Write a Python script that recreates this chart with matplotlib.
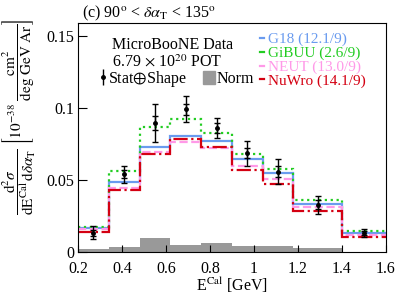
import numpy as np
import matplotlib
matplotlib.use('Agg')
import matplotlib.pyplot as plt
from matplotlib.patches import Patch
from matplotlib.lines import Line2D

plt.rcParams['font.family'] = ['Liberation Serif', 'DejaVu Serif']
plt.rcParams['mathtext.fontset'] = 'stix'

# bin edges of E^Cal [GeV]
EDGES = [0.2, 0.34, 0.48, 0.62, 0.76, 0.90, 1.04, 1.18, 1.40, 1.60]

# measured cross section and uncertainties
DATA = [0.0133, 0.0541, 0.0896, 0.0991, 0.0864, 0.0687, 0.0559, 0.0329, 0.0133]
ERR_TOT = [0.0044, 0.0060, 0.0134, 0.0090, 0.0069, 0.0087, 0.0087, 0.0062, 0.0029]
ERR_STAT = [0.0020, 0.0030, 0.0046, 0.0037, 0.0035, 0.0035, 0.0040, 0.0030, 0.0015]
NORM = [0.0017, 0.0036, 0.0098, 0.0045, 0.0060, 0.0042, 0.0040, 0.0024, 0.0]

# generator predictions
G18 = [0.0166, 0.0488, 0.0728, 0.0808, 0.0774, 0.0647, 0.0550, 0.0331, 0.0133]
GIBUU = [0.0172, 0.0566, 0.0871, 0.0926, 0.0829, 0.0684, 0.0578, 0.0358, 0.0149]
NEUT = [0.0156, 0.0443, 0.0694, 0.0765, 0.0721, 0.0599, 0.0506, 0.0313, 0.0121]
NUWRO = [0.0142, 0.0433, 0.0680, 0.0785, 0.0730, 0.0573, 0.0473, 0.0282, 0.0102]

MODELS = [
    ('G18 (12.1/9)', G18, '#6a9bef', '-'),
    ('GiBUU (2.6/9)', GIBUU, '#22cc22', ':'),
    ('NEUT (13.0/9)', NEUT, '#ff99e8', '--'),
    ('NuWro (14.1/9)', NUWRO, '#d40012', '-.'),
]

FS = 11.5

fig = plt.figure(figsize=(4.07, 2.95), dpi=100)
ax = fig.add_axes([0.1916, 0.146, 0.7564, 0.775])

edges = np.array(EDGES)
centers = 0.5 * (edges[:-1] + edges[1:])

ax.stairs(NORM, edges, fill=True, color='#999999', lw=0)

handles = []
for label, vals, color, ls in MODELS:
    ax.stairs(vals, edges, baseline=None, color=color, ls=ls, lw=1.6)
    handles.append(Line2D([], [], color=color, ls='-', lw=1.6))

ax.errorbar(centers, DATA, yerr=ERR_TOT, fmt='o', ms=2.5, color='black',
            lw=1.0, capsize=2.0, capthick=1.0, zorder=5)
ax.errorbar(centers, DATA, yerr=ERR_STAT, fmt='none', color='black',
            lw=1.0, capsize=2.0, capthick=1.0, zorder=5)

ax.set_xlim(0.2, 1.6)
ax.set_ylim(0, 0.159)
ax.set_xticks([0.2, 0.4, 0.6, 0.8, 1.0, 1.2, 1.4, 1.6])
ax.set_xticklabels(['0.2', '0.4', '0.6', '0.8', '1', '1.2', '1.4', '1.6'])
ax.set_yticks([0, 0.05, 0.1, 0.15])
ax.set_yticklabels(['0', '0.05', '0.1', '0.15'])
ax.tick_params(axis='both', direction='in', labelsize=FS, width=0.8)
ax.tick_params(axis='x', length=5, pad=6.5)
ax.tick_params(axis='y', length=6.5, pad=2.5)
for s in ax.spines.values():
    s.set_linewidth(0.8)

ax.set_xlabel(r'E$^{\mathrm{Cal}}$ [GeV]', fontsize=FS)
ax.xaxis.set_label_coords(0.5, -0.105)
ax.set_ylabel(r'$\dfrac{\mathrm{d}^{2}\sigma}{\mathrm{dE}^{\mathrm{Cal}}\,\mathrm{d}\delta\alpha_{\mathrm{T}}}\ '
              r'\left[10^{-38}\ \dfrac{\mathrm{cm}^{2}}{\mathrm{deg\ GeV\ Ar}}\right]$',
              fontsize=11, va='center')
ax.yaxis.set_label_coords(-0.19, 0.59)

fig.text(82 / 407, 1 - 13 / 295,
         r'(c) 90$^{\mathrm{o}}$ < $\delta\alpha_{\mathrm{T}}$ < 135$^{\mathrm{o}}$',
         fontsize=FS, ha='left', va='center')

ax.text(0.11, 0.905, 'MicroBooNE Data', transform=ax.transAxes, fontsize=FS, va='center')
ax.text(0.11, 0.83, r'6.79 $\times$ 10$^{20}$ POT', transform=ax.transAxes,
        fontsize=FS, va='center')

eb = ax.errorbar([], [], yerr=[], fmt='o', ms=2.5, color='black', lw=1.0,
                 capsize=2.0, capthick=1.0)
leg_a = ax.legend([eb], [r'Stat$\oplus$Shape'],
                  loc='center left', bbox_to_anchor=(0.068, 0.757),
                  frameon=False, fontsize=FS, handlelength=0.5, handletextpad=0.1,
                  borderpad=0, borderaxespad=0)
ax.add_artist(leg_a)
leg_b = ax.legend([Patch(color='#999999')], ['Norm'],
                  loc='center left', bbox_to_anchor=(0.406, 0.757),
                  frameon=False, fontsize=FS, handlelength=0.75, handletextpad=0.12,
                  handleheight=0.85, borderpad=0, borderaxespad=0)
ax.add_artist(leg_b)

leg2 = ax.legend(handles, [m[0] for m in MODELS], loc='upper left',
                 bbox_to_anchor=(0.59, 0.96), frameon=False, fontsize=11,
                 handlelength=0.3, handletextpad=0.25, labelspacing=0.0,
                 borderpad=0, borderaxespad=0, labelcolor='linecolor')

fig.savefig('out.png', dpi=100)
